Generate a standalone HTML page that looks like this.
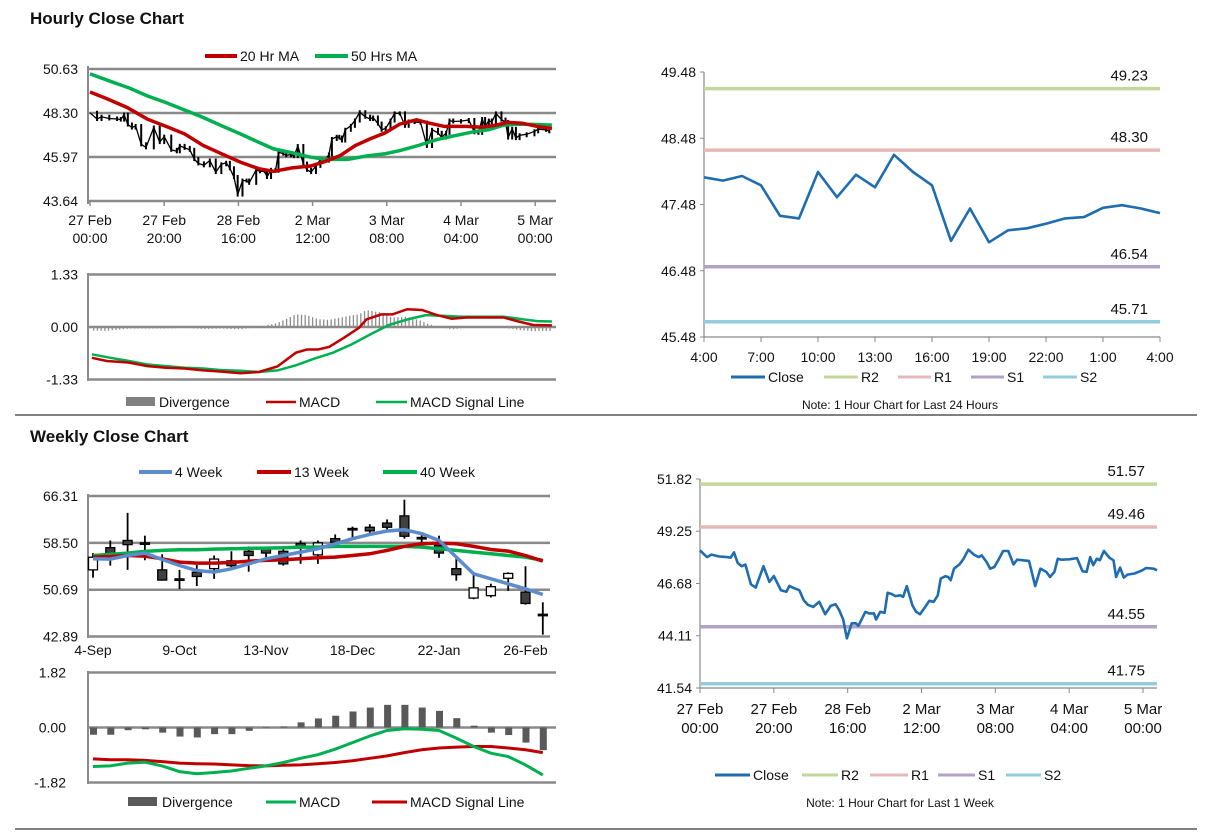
<!DOCTYPE html>
<html><head><meta charset="utf-8"><title>Hourly and Weekly Close Charts</title>
<style>
html,body{margin:0;padding:0;background:#fff;}
svg{display:block;font-family:"Liberation Sans",Arial,sans-serif;}
</style></head>
<body>
<svg id="svg" width="1212" height="834" viewBox="0 0 1212 834" xmlns="http://www.w3.org/2000/svg">
<rect width="1212" height="834" fill="#fff"/>
<text x="30" y="24" font-size="17" font-weight="bold" fill="#111">Hourly Close Chart</text>
<text x="30" y="442" font-size="17" font-weight="bold" fill="#111">Weekly Close Chart</text>
<line x1="15" y1="415" x2="1197" y2="415" stroke="#808080" stroke-width="2"/>
<line x1="15" y1="829" x2="1197" y2="829" stroke="#808080" stroke-width="2"/>
<g id="g"></g>
</svg>
<script>
// ---------- DATA ----------
// hourly closes (last 1 week), hours since 27 Feb 00:00
const weekHours = [0,1.9,3.1,5.2,7.3,8.3,9.2,10.2,11.3,12.3,13.8,15.1,17.2,18.8,20,21.9,23.4,24.2,25.5,26.9,28.1,29.2,30.7,32.3,33.9,35.4,36.7,37.7,38.8,39.8,41.1,42.2,42.9,44.8,45.8,47.1,47.7,48.8,50,50.8,52.1,52.9,54.2,55,56,57.5,58.5,59.6,60.9,62.1,63.3,64.4,65.2,66.5,67.2,67.9,68.8,70.3,71.4,72.7,74.2,75.5,76.3,77.6,78.6,79.7,81,82.1,83.5,84.9,85.9,87.5,89.1,90.8,92.2,93.8,94.8,96,96.9,97.9,100,102.1,103.6,104.7,105.7,106.5,107.5,108.3,109.4,110.9,112,112.7,113.8,114.8,115.8,117.7,119.8,120.8,122.9,123.8];
const weekClose = [48.31,47.98,48.10,48.01,47.98,47.95,48.21,47.69,47.53,47.61,46.64,46.48,47.53,46.76,47.05,46.35,46.27,46.56,46.45,46.35,45.86,45.63,45.53,45.78,45.17,45.58,45.66,45.37,44.91,43.98,44.72,44.72,44.60,45.29,45.21,45.21,44.91,45.29,45.24,46.22,46.15,46.06,46.10,46.02,46.55,45.62,45.29,45.17,45.50,45.83,45.78,46.10,46.92,47.04,47.00,46.84,47.41,47.62,47.90,48.34,48.10,47.98,48.06,47.74,47.41,47.49,47.90,48.28,48.28,47.62,47.85,47.82,47.79,46.55,47.41,47.25,47.00,47.25,47.90,47.85,47.87,47.93,47.28,47.25,47.98,47.58,47.90,47.82,48.28,47.95,47.82,47.00,47.46,46.97,47.12,47.17,47.33,47.44,47.41,47.33];
const ma20Hours = [0,4.5,10,15.5,20.5,25.5,30.5,35.5,40.5,45.5,49.5,54.5,59.5,63.5,67.5,71.5,75.5,79.5,83.5,88,91.5,95.5,97.5,101.5,105.5,109.5,112.5,116.5,120.5,125];
const ma20 = [49.41,49.06,48.59,47.97,47.59,47.19,46.58,46.14,45.70,45.35,45.21,45.39,45.49,45.74,46.05,46.58,46.93,47.24,47.71,47.94,47.76,47.59,47.59,47.59,47.54,47.66,47.80,47.76,47.59,47.48];
const ma50Hours = [0,5.5,10.5,15.5,20.5,25.5,30.5,35.5,40.5,45.5,49.5,54.5,59.5,63.5,69.5,74.5,79.5,83.5,88.5,93.5,98.5,103.5,107.5,111.5,115.5,120.5,125];
const ma50 = [50.37,49.98,49.63,49.20,48.85,48.46,48.06,47.62,47.19,46.75,46.40,46.19,45.96,45.84,45.84,46.02,46.14,46.31,46.58,46.89,47.10,47.31,47.42,47.66,47.71,47.69,47.66];
const macdHours = [0.5,4.5,10.5,15.5,20.5,25.5,30.5,35.5,40.5,45.5,50.5,55.5,58.5,61.5,64.5,68.5,72.5,74.5,78.5,81.5,85.5,89.5,93.5,97.5,101.5,105.5,111.5,115.5,119.5,125.5];
const macdH = [-0.78,-0.86,-0.90,-0.99,-1.03,-1.05,-1.10,-1.13,-1.17,-1.14,-1.00,-0.65,-0.57,-0.57,-0.50,-0.27,-0.02,0.19,0.32,0.32,0.45,0.43,0.30,0.21,0.24,0.24,0.24,0.14,0.05,0.04];
const sigHours = [0.5,5.5,10.5,15.5,20.5,25.5,30.5,35.5,40.5,45.5,50.5,55.5,60.5,65.5,70.5,75.5,80.5,85.5,90.5,95.5,100.5,105.5,111.5,115.5,120.5,125.5];
const sigH = [-0.69,-0.78,-0.86,-0.95,-0.99,-1.03,-1.05,-1.09,-1.11,-1.14,-1.10,-0.97,-0.80,-0.65,-0.44,-0.19,0.05,0.19,0.30,0.28,0.26,0.26,0.26,0.21,0.15,0.14];
const hourTickLabels = [["27 Feb","00:00"],["27 Feb","20:00"],["28 Feb","16:00"],["2 Mar","12:00"],["3 Mar","08:00"],["4 Mar","04:00"],["5 Mar","00:00"]];
const hourTickHours = [0,20,40,60,80,100,120];
// last 24 hours
const dayClose = [47.89,47.84,47.91,47.77,47.31,47.27,47.97,47.59,47.93,47.74,48.23,47.97,47.77,46.93,47.42,46.91,47.09,47.12,47.19,47.27,47.29,47.43,47.47,47.42,47.35];
const dayTickLabels = ["4:00","7:00","10:00","13:00","16:00","19:00","22:00","1:00","4:00"];
const dayLevelNames = ["R2","R1","S1","S2"];
const dayLevels = [49.23,48.30,46.54,45.71];
const weekLevels = [51.57,49.46,44.55,41.75];
const dayYTicks = [49.48,48.48,47.48,46.48,45.48];
const weekYTicks = [51.82,49.25,46.68,44.11,41.54];
const hourYTicks = [50.63,48.30,45.97,43.64];
const hourMacdTicks = [1.33,0.00,-1.33];
// weekly candles
const wOpen  = [54.0,57.7,58.9,58.5,54.0,52.5,53.6,54.2,55.5,57.1,57.5,57.1,58.4,56.5,59.2,60.9,61.1,61.8,63.0,59.4,58.1,54.2,49.3,49.7,52.6,50.3,46.6];
const wClose = [56.1,56.6,58.2,58.5,52.3,52.5,52.9,55.8,54.7,56.4,56.8,55.0,57.7,58.5,58.6,60.9,60.5,61.1,59.6,59.4,56.8,53.2,51.0,51.2,53.4,48.4,46.6];
const wHigh  = [56.8,58.9,63.5,59.7,56.6,54.0,54.8,56.4,57.1,57.9,57.9,57.7,58.9,58.9,59.9,61.2,61.6,62.4,65.7,60.3,59.7,56.1,53.3,51.7,53.6,54.6,48.6];
const wLow   = [52.7,54.7,54.0,55.6,52.2,50.8,51.3,52.5,54.2,53.7,56.1,54.7,55.0,55.0,57.8,59.2,60.0,60.6,59.2,57.8,56.0,52.2,49.1,49.4,50.5,48.2,43.2];
const ma4w  = [55.85,55.79,56.40,56.79,55.73,54.73,53.90,53.62,54.18,55.01,55.85,56.40,56.96,57.52,58.35,59.19,59.91,60.47,60.69,60.02,58.91,56.12,53.34,52.51,51.67,50.84,49.89];
const ma13w = [56.12,56.23,56.40,56.29,55.85,55.29,55.12,55.12,55.23,55.46,55.57,55.68,55.85,56.01,56.12,56.40,56.68,57.24,57.91,58.35,58.46,58.35,57.91,57.40,57.13,56.40,55.46];
const ma40w = [56.40,56.57,56.79,57.07,57.24,57.35,57.35,57.46,57.52,57.57,57.63,57.68,57.79,57.79,57.91,57.91,57.91,57.91,57.91,57.79,57.52,57.24,56.96,56.68,56.40,56.12,55.57];
const wDiv  = [-0.24,-0.24,-0.09,-0.06,-0.17,-0.30,-0.33,-0.22,-0.22,-0.11,-0.02,0.03,0.17,0.30,0.39,0.53,0.66,0.75,0.75,0.66,0.55,0.31,0.06,-0.17,-0.25,-0.50,-0.75];
const wMacd = [-1.29,-1.27,-1.18,-1.15,-1.27,-1.46,-1.53,-1.49,-1.44,-1.35,-1.27,-1.16,-1.02,-0.90,-0.72,-0.50,-0.28,-0.10,-0.04,-0.06,-0.10,-0.35,-0.63,-0.85,-0.96,-1.24,-1.57];
const wSig  = [-1.04,-1.07,-1.07,-1.09,-1.13,-1.18,-1.20,-1.21,-1.24,-1.26,-1.27,-1.25,-1.24,-1.20,-1.16,-1.10,-1.02,-0.94,-0.83,-0.74,-0.68,-0.65,-0.63,-0.63,-0.68,-0.74,-0.83];
const weekTickLabels = ["4-Sep","9-Oct","13-Nov","18-Dec","22-Jan","26-Feb"];
const weekTickIdx = [0,5,10,15,20,25];
const weekYTicksW = [66.31,58.50,50.69,42.89];
const weekMacdTicks = [1.82,0.00,-1.82];

// ---------- SCALES ----------
const xH = h => 90 + h*3.71;
const yP = v => 69 + (50.63-v)*18.88;
const yM = v => 327 - v*39.5;
const xT = h => 704 + h*19.0;
const yT = v => 72 + (49.48-v)*66.25;
const xB = h => 700 + h*3.692;
const yB = v => 479 + (51.82-v)*20.33;
const xW = i => 93 + i*17.3;
const yW = v => 496 + (66.31-v)*6.0;
const yWM = v => 727.5 - v*30.2;

const NS="http://www.w3.org/2000/svg";
const G=document.getElementById('g');
function mk(tag, attrs, parent){const e=document.createElementNS(NS,tag);for(const k in attrs)e.setAttribute(k,attrs[k]);(parent||G).appendChild(e);return e;}
function txt(x,y,s,size,anchor){const t=mk('text',{x:x,y:y,'font-size':size||14,'text-anchor':anchor||'start',fill:'#111'});t.textContent=s;return t;}
function pathOf(xs,ys){return xs.map((x,i)=>(i?'L':'M')+x.toFixed(1)+','+ys[i].toFixed(1)).join('');}
function interp(hs,vs,h){if(h<=hs[0])return vs[0];for(let i=1;i<hs.length;i++){if(h<=hs[i]){const t=(h-hs[i-1])/(hs[i]-hs[i-1]);return vs[i-1]+t*(vs[i]-vs[i-1]);}}return vs[vs.length-1];}
function legendLine(x1,x2,y,color,w,label,name){
  const l=mk('line',{x1:x1,y1:y,x2:x2,y2:y,stroke:color,'stroke-width':w});
  
  
  const t=txt(x2+3,y+5,label,14);
  
  
}

// ---------- TOP-LEFT: hourly price ----------
(function(){
  hourYTicks.forEach((v,i)=>{
    const l=mk('line',{x1:88,y1:yP(v),x2:556,y2:yP(v),stroke:'#8a8a8a','stroke-width':2.5});
    
    
    const t=txt(78,yP(v)+5,v.toFixed(2),14,'end');
    
    
  });
  const ax=mk('line',{x1:88,y1:66,x2:88,y2:204,stroke:'#8a8a8a','stroke-width':2});
  
  
  hourTickHours.forEach((h,i)=>{
    const tk=mk('line',{x1:xH(h),y1:201,x2:xH(h),y2:206,stroke:'#8a8a8a','stroke-width':1.5});
    
    
    const a=txt(xH(h),225,hourTickLabels[i][0],14,'middle');
    
    
    const b=txt(xH(h),243,hourTickLabels[i][1],14,'middle');
    
    
  });
  for(let i=1;i<weekHours.length;i++){
    const a=weekClose[i-1],b=weekClose[i];
    const bar=mk('line',{x1:xH(weekHours[i]),y1:yP(Math.max(a,b))-2,x2:xH(weekHours[i]),y2:yP(Math.min(a,b))+2,stroke:'#000','stroke-width':2});
    
    
  }
  const pl=mk('path',{d:pathOf(weekHours.map(xH),weekClose.map(yP)),fill:'none',stroke:'#000','stroke-width':1.3});
  
  
  const g=mk('path',{d:pathOf(ma50Hours.map(h=>xH(Math.min(h,124.5))),ma50.map(yP)),fill:'none',stroke:'#00b050','stroke-width':3.5});
  
  
  const r=mk('path',{d:pathOf(ma20Hours.map(h=>xH(Math.min(h,124.5))),ma20.map(yP)),fill:'none',stroke:'#c00000','stroke-width':3.5});
  
  
  legendLine(205,237,56,'#c00000',4,'20 Hr MA','legend-ma20');
  legendLine(315,348,56,'#00b050',4,'50 Hrs MA','legend-ma50');
})();

// ---------- TOP-LEFT: hourly MACD ----------
(function(){
  hourMacdTicks.forEach(v=>{
    const l=mk('line',{x1:88,y1:yM(v),x2:556,y2:yM(v),stroke:'#8a8a8a','stroke-width':2.5});
    
    
    const t=txt(78,yM(v)+5,v.toFixed(2),14,'end');
    
    
  });
  const ax=mk('line',{x1:88,y1:273,x2:88,y2:381,stroke:'#8a8a8a','stroke-width':2});
  
  
  for(let h=1;h<=124;h++){
    const d=interp(macdHours,macdH,h)-interp(sigHours,sigH,h);
    const b=mk('line',{x1:xH(h),y1:yM(0),x2:xH(h),y2:yM(d),stroke:'#8c8c8c','stroke-width':1.3});
    
    
  }
  const s=mk('path',{d:pathOf(sigHours.map(h=>xH(Math.min(h,124.5))),sigH.map(yM)),fill:'none',stroke:'#00b050','stroke-width':2.5});
  
  
  const m=mk('path',{d:pathOf(macdHours.map(h=>xH(Math.min(h,124.5))),macdH.map(yM)),fill:'none',stroke:'#c00000','stroke-width':2.5});
  
  
  const box=mk('rect',{x:126,y:397,width:29,height:9,fill:'#808080'});
  
  
  const t=txt(159,407,'Divergence',14);
  
  
  legendLine(266,296,402,'#c00000',2.5,'MACD','legend-macd');
  legendLine(376,407,402,'#00b050',2.5,'MACD Signal Line','legend-signal');
})();

// ---------- level chart helper ----------
function levelChart(opt){
  const ax=mk('line',{x1:opt.x0,y1:opt.yTop,x2:opt.x0,y2:opt.yBot,stroke:'#888','stroke-width':1.2});
  
  
  const xa=mk('line',{x1:opt.x0,y1:opt.yBot,x2:opt.x1,y2:opt.yBot,stroke:'#888','stroke-width':1.2});
  
  
  opt.yTicks.forEach(v=>{
    const tk=mk('line',{x1:opt.x0-4,y1:opt.y(v),x2:opt.x0,y2:opt.y(v),stroke:'#888','stroke-width':1});
    
    
    const t=txt(opt.x0-8,opt.y(v)+5,v.toFixed(2),14,'end');
    
    
  });
  const colors=['#c3d69b','#e6b9b8','#b3a2c7','#93cddd'];
  opt.levels.forEach((v,i)=>{
    const l=mk('line',{x1:opt.x0,y1:opt.y(v),x2:opt.x1,y2:opt.y(v),stroke:colors[i],'stroke-width':3.5});
    
    
    const t=txt(opt.x1-12,opt.y(v)-8,v.toFixed(2),15,'end');
    
    
  });
  const c=mk('path',{d:pathOf(opt.cx,opt.cy),fill:'none',stroke:'#1f6db0','stroke-width':2.6,'stroke-linejoin':'round'});
  
  
  const lx=opt.leg;
  legendLine(lx[0],lx[1],opt.legY,'#1f6db0',3,'Close',opt.name+'-legend-close');
  for(let i=0;i<4;i++)legendLine(lx[2+2*i],lx[3+2*i],opt.legY,colors[i],3,dayLevelNames[i],opt.name+'-legend-'+dayLevelNames[i].toLowerCase());
  const n=txt(900,opt.noteY,opt.note,12,'middle');
  
  
}

// ---------- TOP-RIGHT ----------
levelChart({name:'day-chart',x0:704,x1:1160,yTop:72,yBot:337,y:yT,yTicks:dayYTicks,levels:dayLevels,
  cx:dayClose.map((v,i)=>xT(i)),cy:dayClose.map(yT),
  leg:[731,765,824,858,898,931,971,1004,1043,1077],legY:377,noteY:409,note:'Note: 1 Hour Chart for Last 24 Hours'});
dayTickLabels.forEach((s,i)=>{
  const tk=mk('line',{x1:xT(i*3),y1:337,x2:xT(i*3),y2:342,stroke:'#888','stroke-width':1});
  
  
  const t=txt(xT(i*3),362,s,14,'middle');
  
  
});

// ---------- BOTTOM-RIGHT ----------
levelChart({name:'week-chart',x0:700,x1:1157,yTop:479,yBot:688,y:yB,yTicks:weekYTicks,levels:weekLevels,
  cx:weekHours.map(xB),cy:weekClose.map(yB),
  leg:[715,750,802,838,870,908,938,975,1006,1041],legY:775,noteY:807,note:'Note: 1 Hour Chart for Last 1 Week'});
hourTickHours.forEach((h,i)=>{
  const tk=mk('line',{x1:xB(h),y1:688,x2:xB(h),y2:693,stroke:'#888','stroke-width':1});
  
  
  const a=txt(xB(h),714,hourTickLabels[i][0],15,'middle');
  
  
  const b=txt(xB(h),733,hourTickLabels[i][1],15,'middle');
  
  
});

// ---------- BOTTOM-LEFT: weekly candles ----------
(function(){
  weekYTicksW.forEach(v=>{
    const l=mk('line',{x1:88,y1:yW(v),x2:550,y2:yW(v),stroke:'#8a8a8a','stroke-width':2.5});
    
    
    const t=txt(78,yW(v)+5,v.toFixed(2),14,'end');
    
    
  });
  const ax=mk('line',{x1:88,y1:494,x2:88,y2:638,stroke:'#8a8a8a','stroke-width':2});
  
  
  weekTickIdx.forEach((k,i)=>{
    const t=txt(xW(k),655,weekTickLabels[i],14,'middle');
    
    
  });
  for(let i=0;i<wOpen.length;i++){
    const w=mk('line',{x1:xW(i),y1:yW(wHigh[i]),x2:xW(i),y2:yW(wLow[i]),stroke:'#000','stroke-width':1.8});
    
    
    const top=yW(Math.max(wOpen[i],wClose[i])),bot=yW(Math.min(wOpen[i],wClose[i]));
    const up=wClose[i]>wOpen[i];
    const b=mk('rect',{x:xW(i)-4.5,y:top,width:9,height:Math.max(bot-top,1.5),fill:up?'#fff':'#404040',stroke:'#000','stroke-width':1.3});
    
    
  }
  [[ma40w,'#00b050','ma40-week-line'],[ma13w,'#c00000','ma13-week-line'],[ma4w,'#5b8ccc','ma4-week-line']].forEach(s=>{
    const p=mk('path',{d:pathOf(s[0].map((v,i)=>xW(i)),s[0].map(yW)),fill:'none',stroke:s[1],'stroke-width':3.5});
    
    
  });
  legendLine(139,172,472,'#5b8ccc',4,'4 Week','legend-4-week');
  legendLine(257,291,472,'#c00000',4,'13 Week','legend-13-week');
  legendLine(383,417,472,'#00b050',4,'40 Week','legend-40-week');
})();

// ---------- BOTTOM-LEFT: weekly MACD ----------
(function(){
  weekMacdTicks.forEach(v=>{
    const l=mk('line',{x1:88,y1:yWM(v),x2:556,y2:yWM(v),stroke:'#8a8a8a','stroke-width':2.5});
    
    
    const t=txt(66,yWM(v)+5,v.toFixed(2),14,'end');
    
    
  });
  const ax=mk('line',{x1:88,y1:671,x2:88,y2:784,stroke:'#8a8a8a','stroke-width':2});
  
  
  wDiv.forEach((d,i)=>{
    const b=mk('rect',{x:xW(i)-3,y:Math.min(yWM(0),yWM(d)),width:7,height:Math.abs(yWM(d)-yWM(0)),fill:'#595959'});
    
    
  });
  const s=mk('path',{d:pathOf(wSig.map((v,i)=>xW(i)),wSig.map(yWM)),fill:'none',stroke:'#c00000','stroke-width':3});
  
  
  const m=mk('path',{d:pathOf(wMacd.map((v,i)=>xW(i)),wMacd.map(yWM)),fill:'none',stroke:'#00b050','stroke-width':3});
  
  
  const box=mk('rect',{x:128,y:797,width:29,height:9,fill:'#595959'});
  
  
  const t=txt(162,807,'Divergence',14);
  
  
  legendLine(266,296,802,'#00b050',3,'MACD','weekly-legend-macd');
  legendLine(372,407,802,'#c00000',3,'MACD Signal Line','weekly-legend-signal');
})();
</script>
</body></html>
